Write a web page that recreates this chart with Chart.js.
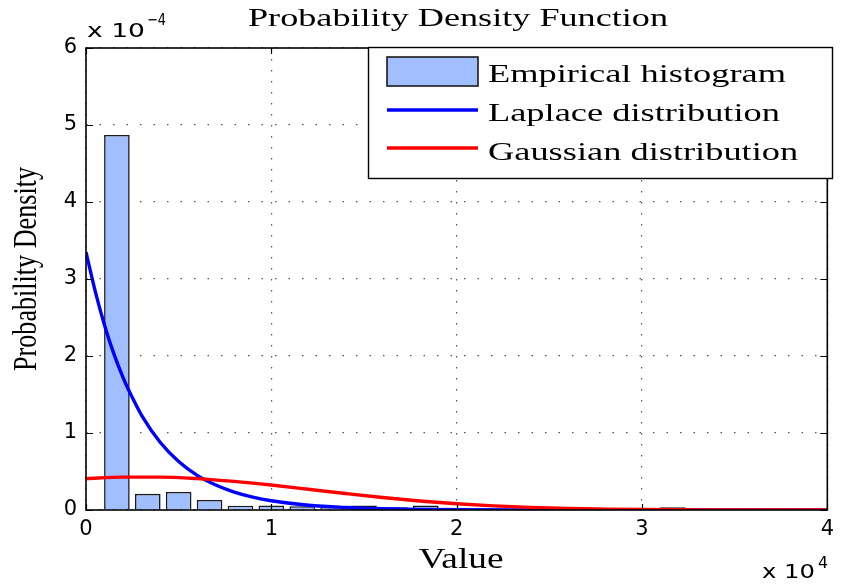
<!DOCTYPE html>
<html><head><meta charset="utf-8">
<script src="https://cdn.jsdelivr.net/npm/chart.js@4.4.1/dist/chart.umd.min.js"></script>
<style>html,body{margin:0;padding:0;background:#fff;overflow:hidden}#wrap{width:841px;height:586px;position:relative}</style>
</head><body><div id="wrap"><canvas id="c" width="841" height="586"></canvas></div>
<script>
// ---- data (x in raw units, densities in units of 1e-4) ----
const binCenters = [1667,3333,5000,6667,8333,10000,11667,13333,15000,16667,18333,20000,21667,23333,25000,26667,28333,30000,31667];
const histDensityE4 = [4.87,0.21,0.235,0.13,0.055,0.06,0.05,0.03,0.058,0.035,0.058,0.03,0.02,0.015,0.012,0.01,0.008,0.006,0.036];
const laplaceX = [0,500,1000,1500,2000,2500,3000,4000,5000,6000,7000,8000,9000,10000,12000,14000,16000,18000,20000,24000,28000,32000,36000,40000];
const laplaceE4 = [3.35,2.84,2.40,2.03,1.72,1.46,1.23,0.88,0.63,0.45,0.325,0.233,0.167,0.12,0.061,0.032,0.016,0.008,0.004,0.001,0.0003,0.0001,0,0];
const gaussX = [0,2000,4000,6000,8000,10000,12000,14000,16000,18000,20000,22000,24000,26000,28000,30000,32000,34000,36000,38000,40000];
const gaussE4 = [0.408,0.427,0.427,0.408,0.372,0.324,0.269,0.214,0.162,0.117,0.081,0.053,0.034,0.020,0.012,0.0064,0.0033,0.0017,0.0008,0.0004,0.0002];
const xTicks = [0,10000,20000,30000,40000];
const yTicks = [0,1,2,3,4,5,6];
const seriesNames = ['Empirical histogram','Laplace distribution','Gaussian distribution'];
const titleText = 'Probability Density Function';
const xLabel = 'Value';
const yLabel = 'Probability Density';

const barFill = 'rgb(161,190,255)';
const barEdge = '#1a1a1a';

function fitText(ctx, txt, x, y, font, w, align, sy) {
  ctx.save();
  ctx.font = font;
  const m = ctx.measureText(txt).width;
  const sx = w ? w / m : 1;
  ctx.translate(x, y);
  ctx.scale(sx, sy || 1);
  ctx.textAlign = align || 'left';
  ctx.textBaseline = 'alphabetic';
  ctx.fillStyle = '#000';
  ctx.fillText(txt, 0, 0);
  ctx.restore();
  return sx;
}

const decor = {
  id: 'decor',
  afterDatasetsDraw(chart) {
    const ctx = chart.ctx, a = chart.chartArea;
    const xs = chart.scales.x, ys = chart.scales.y;
    ctx.save();
    // frame
    ctx.strokeStyle = '#000'; ctx.lineWidth = 1.6;
    ctx.strokeRect(a.left, a.top, a.right - a.left, a.bottom - a.top);
    // inward ticks
    ctx.lineWidth = 1.2;
    ctx.beginPath();
    xTicks.forEach(v => {
      const px = Math.round(xs.getPixelForValue(v)) + 0.5;
      ctx.moveTo(px, a.bottom); ctx.lineTo(px, a.bottom - 6);
      ctx.moveTo(px, a.top); ctx.lineTo(px, a.top + 6);
    });
    yTicks.forEach(v => {
      const py = Math.round(ys.getPixelForValue(v)) + 0.5;
      ctx.moveTo(a.left, py); ctx.lineTo(a.left + 7, py);
      ctx.moveTo(a.right, py); ctx.lineTo(a.right - 7, py);
    });
    ctx.stroke();

    // legend
    const L = 368, T = 47, R = 832, B = 178;
    ctx.fillStyle = '#fff';
    ctx.fillRect(L, T, R - L, B - T);
    ctx.strokeStyle = '#000'; ctx.lineWidth = 1.4;
    ctx.strokeRect(L + 0.5, T + 0.5, R - L, B - T);
    const ds = chart.data.datasets;
    ctx.fillStyle = ds[0].backgroundColor;
    ctx.fillRect(387, 57, 91, 29);
    ctx.strokeStyle = ds[0].borderColor; ctx.lineWidth = 1.6;
    ctx.strokeRect(387, 57, 91, 29);
    ctx.lineWidth = 3.4;
    ctx.strokeStyle = ds[1].borderColor;
    ctx.beginPath(); ctx.moveTo(387, 110); ctx.lineTo(478, 110); ctx.stroke();
    ctx.strokeStyle = ds[2].borderColor;
    ctx.beginPath(); ctx.moveTo(387, 148); ctx.lineTo(478, 148); ctx.stroke();
    const lf = '26px "Liberation Serif", "Times New Roman", serif';
    ctx.font = lf;
    const sx = 298 / ctx.measureText(ds[0].label).width;
    const base = [82, 121, 160];
    ds.forEach((d, i) => {
      ctx.save(); ctx.font = lf; ctx.fillStyle = '#000';
      ctx.translate(488, base[i]); ctx.scale(sx, 1);
      ctx.textAlign = 'left'; ctx.fillText(d.label, 0, 0); ctx.restore();
    });

    // title & axis labels
    fitText(ctx, titleText, 458, 26, '26px "Liberation Serif", serif', 420, 'center');
    fitText(ctx, xLabel, 461, 568, '29px "Liberation Serif", serif', 85, 'center');
    ctx.save();
    ctx.font = '26px "Liberation Serif", serif';
    const yw = ctx.measureText(yLabel).width;
    ctx.translate(36, 269); ctx.rotate(-Math.PI / 2); ctx.scale(204 / yw, 1.3);
    ctx.textAlign = 'center'; ctx.fillStyle = '#000'; ctx.fillText(yLabel, 0, 0);
    ctx.restore();

    // exponent labels
    fitText(ctx, 'x 10', 87, 37, '20px "DejaVu Sans", sans-serif', 58, 'left');
    fitText(ctx, '\u22124', 147, 25, '16px "DejaVu Sans", sans-serif', 19, 'left');
    fitText(ctx, 'x 10', 762, 578, '19px "DejaVu Sans", sans-serif', 53, 'left');
    fitText(ctx, '4', 818, 568, '15px "DejaVu Sans", sans-serif', 10, 'left');
    ctx.restore();
  }
};

const tickFont = { family: '"DejaVu Sans", sans-serif', size: 21 };

new Chart(document.getElementById('c'), {
  type: 'bar',
  data: {
    datasets: [
      {
        type: 'bar', label: seriesNames[0],
        data: binCenters.map((x, i) => ({ x: x, y: histDensityE4[i] })),
        backgroundColor: barFill, borderColor: barEdge, borderWidth: 1.6,
        barPercentage: 0.83, categoryPercentage: 1.0, order: 3
      },
      {
        type: 'line', label: seriesNames[1],
        data: laplaceX.map((x, i) => ({ x: x, y: laplaceE4[i] })),
        borderColor: '#0000ff', borderWidth: 3.4, pointRadius: 0, fill: false,
        cubicInterpolationMode: 'monotone', order: 2
      },
      {
        type: 'line', label: seriesNames[2],
        data: gaussX.map((x, i) => ({ x: x, y: gaussE4[i] })),
        borderColor: '#ff0000', borderWidth: 3.4, pointRadius: 0, fill: false,
        cubicInterpolationMode: 'monotone', order: 1
      }
    ]
  },
  options: {
    responsive: false, animation: false, devicePixelRatio: 1,
    layout: { padding: { left: 0, top: 48, right: 11, bottom: 0 } },
    plugins: { legend: { display: false }, title: { display: false }, tooltip: { enabled: false } },
    scales: {
      x: {
        type: 'linear', min: 0, max: 40000, offset: false,
        afterBuildTicks: s => { s.ticks = xTicks.map(v => ({ value: v })); },
        afterFit: s => { s.height = 76; },
        ticks: { font: tickFont, color: '#000', padding: 7, maxRotation: 0, autoSkip: false,
                 callback: v => String(v / 10000) },
        grid: { color: '#555', lineWidth: 1.2, drawTicks: false, offset: false },
        border: { display: false, dash: [1.5, 9.5] }
      },
      y: {
        type: 'linear', min: 0, max: 6,
        afterBuildTicks: s => { s.ticks = yTicks.map(v => ({ value: v })); },
        afterFit: s => { s.width = 86; },
        ticks: { font: tickFont, color: '#000', padding: 9, callback: v => String(v) },
        grid: { color: '#555', lineWidth: 1.2, drawTicks: false },
        border: { display: false, dash: [1.5, 12] }
      }
    }
  },
  plugins: [decor]
});
</script>
</body></html>
